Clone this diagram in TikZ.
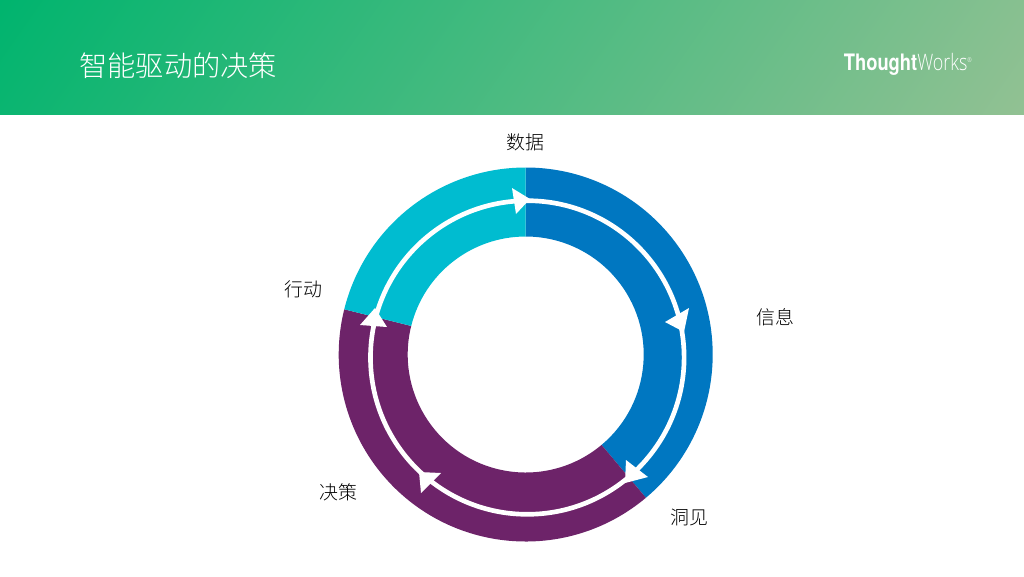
\documentclass[tikz,border=0pt]{standalone}
\usepackage{fontspec}
\setmainfont{Noto Sans CJK SC Light}
\newfontfamily\cjklight{Noto Sans CJK SC Light}
\newfontfamily\logobold{TeX Gyre Heros Bold}[FakeStretch=0.81]
\newfontfamily\logolight{Open Sans Light}[FakeStretch=0.79]
\definecolor{ringblue}{HTML}{0077C1}
\definecolor{ringpurple}{HTML}{6D2369}
\definecolor{ringcyan}{HTML}{00BCD0}
\definecolor{headstart}{HTML}{00B46E}
\definecolor{headend}{HTML}{92C193}
\pgfdeclareverticalshading{headgrad}{100bp}{color(0bp)=(headstart); color(33.85bp)=(headstart); color(66.15bp)=(headend); color(100bp)=(headend)}
\tikzset{
  sector/.style={draw=none},
  flowarrow/.style={fill=white,draw=none},
  flowring/.style={draw=white,line width=3.5pt},
  steplabel/.style={font=\fontsize{14.2}{16}\selectfont,text=black,inner sep=0pt}
}
\begin{document}
\begin{tikzpicture}[x=0.75pt,y=-0.75pt]
\useasboundingbox (0,0) rectangle (1024,576);
\fill[white] (0,0) rectangle (1024,576);
\begin{scope}
\clip (0,0) rectangle (1024,114.5);
\shade[shading=headgrad,shading angle=235] (-188,-643) rectangle (1212,757);
\end{scope}
\node[anchor=west,text=white,inner sep=0pt,font=\cjklight\fontsize{21.2}{24}\selectfont] (title) at (79,66) {智能驱动的决策};
\node[anchor=east,text=white,inner sep=0pt,font=\fontsize{17}{18}\selectfont] (logo) at (972,64) {{\logobold Thought}{\logolight Works}\raisebox{0.6ex}{\tiny\logolight ®}};
% sectors
\def\cx{525.7}\def\cy{354.5}
\fill[sector,ringblue] (\cx,\cy) ++(0,-187) arc[start angle=-90,end angle=50,radius=187] -- ({\cx+118*cos(50)},{\cy+118*sin(50)}) arc[start angle=50,end angle=-90,radius=118] -- cycle;
\fill[sector,ringpurple] ({\cx+187*cos(50)},{\cy+187*sin(50)}) arc[start angle=50,end angle=194,radius=187] -- ({\cx+118*cos(194)},{\cy+118*sin(194)}) arc[start angle=194,end angle=50,radius=118] -- cycle;
\fill[sector,ringcyan] ({\cx+187*cos(194)},{\cy+187*sin(194)}) arc[start angle=194,end angle=270,radius=187] -- (\cx,{\cy-118}) arc[start angle=270,end angle=194,radius=118] -- cycle;
\draw[flowring] (527.3,357.5) circle[radius=156.8];
\fill[flowarrow] (530,199) -- (512,188) -- (516,214) -- cycle;
\fill[flowarrow] (665,322) -- (689,308) -- (684,332) -- cycle;
\fill[flowarrow] (648,477) -- (626,460) -- (625,483) -- cycle;
\fill[flowarrow] (419,472) -- (441,473) -- (421,493) -- cycle;
\fill[flowarrow] (375,308) -- (360,325) -- (387,327) -- cycle;
\node[steplabel] (data) at (525,142) {数据};
\node[steplabel] (info) at (775,317) {信息};
\node[steplabel] (insight) at (689.5,517) {洞见};
\node[steplabel] (decision) at (338,492) {决策};
\node[steplabel] (action) at (303.5,289) {行动};
\end{tikzpicture}
\end{document}
